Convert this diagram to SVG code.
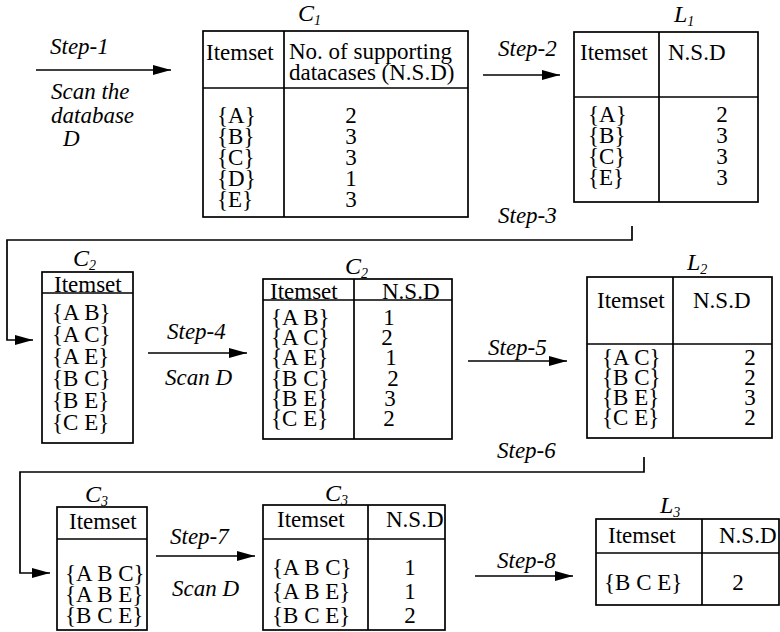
<svg xmlns="http://www.w3.org/2000/svg" width="780" height="632" viewBox="0 0 780 632">
<style>
.t{font-family:"Liberation Serif","Times New Roman",serif;font-size:23px;fill:#000}
.i{font-style:italic}
.lab{font-family:"Liberation Serif","Times New Roman",serif;font-style:italic;font-size:24px;fill:#000}
.sub{font-size:14px}
.m{text-anchor:middle}
.box{fill:none;stroke:#000;stroke-width:1.7}
.ln{fill:none;stroke:#000;stroke-width:1.7}
.ar{fill:none;stroke:#000;stroke-width:1.7;marker-end:url(#ah)}
</style>
<defs>
<marker id="ah" markerUnits="userSpaceOnUse" markerWidth="20" markerHeight="12" refX="18" refY="5" orient="auto">
<path d="M0,0 L18,5 L0,10 Z" fill="#000"/>
</marker>
</defs>
<rect width="780" height="632" fill="#fff"/>

<g id="connectors">
<line class="ar" x1="36" y1="70" x2="171" y2="70"/>
<line class="ar" x1="483" y1="75" x2="560" y2="75"/>
<polyline class="ar" points="632,226 632,240 7,240 7,340 33,340"/>
<line class="ar" x1="148" y1="353" x2="247" y2="353"/>
<line class="ar" x1="468" y1="361" x2="567" y2="361"/>
<polyline class="ar" points="644,457 644,472 20,472 20,573 50,573"/>
<line class="ar" x1="156" y1="556" x2="255" y2="556"/>
<line class="ar" x1="475" y1="576" x2="573" y2="576"/>
<text class="t i" x="50" y="54">Step-1</text>
<text class="t i" x="51" y="99">Scan the<tspan x="51" dy="24">database</tspan><tspan x="63" dy="23">D</tspan></text>
<text class="t i" x="498" y="56">Step-2</text>
<text class="t i" x="498" y="223">Step-3</text>
<text class="t i" x="167" y="339">Step-4</text>
<text class="t i" x="165" y="385">Scan D</text>
<text class="t i" x="488" y="355">Step-5</text>
<text class="t i" x="497" y="458">Step-6</text>
<text class="t i" x="170" y="544">Step-7</text>
<text class="t i" x="172" y="596">Scan D</text>
<text class="t i" x="497" y="568">Step-8</text>
</g>

<g id="C1">
<text class="lab" x="298" y="21">C<tspan class="sub" dy="4">1</tspan></text>
<rect class="box" x="203" y="31" width="265" height="186"/>
<line class="ln" x1="284" y1="31" x2="284" y2="217"/>
<line class="ln" x1="203" y1="88" x2="468" y2="88"/>
<text class="t" x="206" y="60">Itemset</text>
<text class="t" x="289" y="59">No. of supporting<tspan x="289" dy="21">datacases (N.S.D)</tspan></text>
<text class="t" x="217" y="123">{A}<tspan x="217" dy="21">{B}</tspan><tspan x="217" dy="21">{C}</tspan><tspan x="217" dy="21">{D}</tspan><tspan x="217" dy="21">{E}</tspan></text>
<text class="t m" x="351" y="123">2<tspan x="351" dy="21">3</tspan><tspan x="351" dy="21">3</tspan><tspan x="351" dy="21">1</tspan><tspan x="351" dy="21">3</tspan></text>
</g>

<g id="L1">
<text class="lab" x="674" y="22">L<tspan class="sub" dy="4">1</tspan></text>
<rect class="box" x="574" y="32" width="184" height="170"/>
<line class="ln" x1="659" y1="32" x2="659" y2="202"/>
<line class="ln" x1="574" y1="97" x2="758" y2="97"/>
<text class="t" x="580" y="60">Itemset</text>
<text class="t" x="668" y="60">N.S.D</text>
<text class="t" x="588" y="122">{A}<tspan x="588" dy="21">{B}</tspan><tspan x="588" dy="21">{C}</tspan><tspan x="588" dy="21">{E}</tspan></text>
<text class="t m" x="722" y="122">2<tspan x="722" dy="21">3</tspan><tspan x="722" dy="21">3</tspan><tspan x="722" dy="21">3</tspan></text>
</g>

<g id="C2a">
<text class="lab" x="73" y="266">C<tspan class="sub" dy="4">2</tspan></text>
<rect class="box" x="42" y="272" width="91" height="171"/>
<line class="ln" x1="42" y1="293" x2="133" y2="293" stroke-width="2.2"/>
<text class="t" x="54" y="292">Itemset</text>
<text class="t" x="52" y="320">{A B}<tspan x="52" dy="22">{A C}</tspan><tspan x="52" dy="22">{A E}</tspan><tspan x="52" dy="21.5">{B C}</tspan><tspan x="52" dy="22">{B E}</tspan><tspan x="52" dy="22.5">{C E}</tspan></text>
</g>

<g id="C2b">
<text class="lab" x="345" y="274">C<tspan class="sub" dy="4">2</tspan></text>
<rect class="box" x="263" y="279" width="189" height="160"/>
<line class="ln" x1="354" y1="279" x2="354" y2="439"/>
<line class="ln" x1="263" y1="300" x2="452" y2="300" stroke-width="2.2"/>
<text class="t" x="270" y="299">Itemset</text>
<text class="t" x="382" y="299">N.S.D</text>
<text class="t" x="271" y="325">{A B}<tspan x="271" dy="20">{A C}</tspan><tspan x="271" dy="20">{A E}</tspan><tspan x="271" dy="21">{B C}</tspan><tspan x="271" dy="20">{B E}</tspan><tspan x="271" dy="20">{C E}</tspan></text>
<text class="t m" x="389" y="325">1<tspan x="387" dy="20">2</tspan><tspan x="391" dy="20">1</tspan><tspan x="393" dy="21">2</tspan><tspan x="390" dy="20">3</tspan><tspan x="389" dy="20">2</tspan></text>
</g>

<g id="L2">
<text class="lab" x="687" y="270">L<tspan class="sub" dy="4">2</tspan></text>
<rect class="box" x="587" y="277" width="185" height="161"/>
<line class="ln" x1="673" y1="277" x2="673" y2="438"/>
<line class="ln" x1="587" y1="344" x2="772" y2="344"/>
<text class="t" x="597" y="308">Itemset</text>
<text class="t" x="693" y="308">N.S.D</text>
<text class="t" x="602" y="365">{A C}<tspan x="602" dy="20">{B C}</tspan><tspan x="602" dy="20">{B E}</tspan><tspan x="602" dy="20">{C E}</tspan></text>
<text class="t m" x="750" y="365">2<tspan x="750" dy="20">2</tspan><tspan x="750" dy="20">3</tspan><tspan x="750" dy="20">2</tspan></text>
</g>

<g id="C3a">
<text class="lab" x="85" y="502">C<tspan class="sub" dy="4">3</tspan></text>
<rect class="box" x="57" y="507" width="90" height="123"/>
<line class="ln" x1="57" y1="539" x2="147" y2="539"/>
<text class="t" x="69" y="529">Itemset</text>
<text class="t" x="65" y="581">{A B C}<tspan x="65" dy="21">{A B E}</tspan><tspan x="65" dy="21">{B C E}</tspan></text>
</g>

<g id="C3b">
<text class="lab" x="325" y="501">C<tspan class="sub" dy="4">3</tspan></text>
<rect class="box" x="263" y="505" width="182" height="125"/>
<line class="ln" x1="368" y1="505" x2="368" y2="630"/>
<line class="ln" x1="263" y1="539" x2="445" y2="539"/>
<text class="t" x="277" y="527">Itemset</text>
<text class="t" x="386" y="527">N.S.D</text>
<text class="t" x="272" y="575">{A B C}<tspan x="272" dy="24">{A B E}</tspan><tspan x="272" dy="24">{B C E}</tspan></text>
<text class="t m" x="410" y="575">1<tspan x="410" dy="24">1</tspan><tspan x="410" dy="24">2</tspan></text>
</g>

<g id="L3">
<text class="lab" x="660" y="513">L<tspan class="sub" dy="4">3</tspan></text>
<rect class="box" x="596" y="519" width="183" height="86"/>
<line class="ln" x1="702" y1="519" x2="702" y2="605"/>
<line class="ln" x1="596" y1="553" x2="779" y2="553"/>
<text class="t" x="608" y="543">Itemset</text>
<text class="t" x="719" y="543">N.S.D</text>
<text class="t" x="604" y="590">{B C E}</text>
<text class="t m" x="738" y="590">2</text>
</g>
</svg>
